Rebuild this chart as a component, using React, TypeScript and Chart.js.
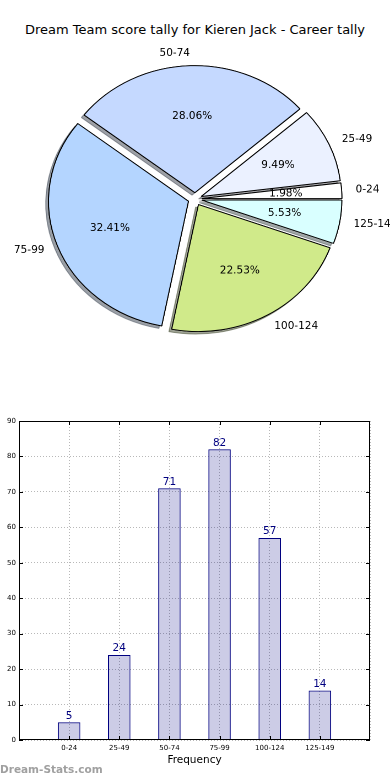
import React, { useEffect, useRef } from 'react';
import { Chart, registerables } from 'chart.js';

Chart.register(...registerables);

// ---------- data ----------
const chartTitle = 'Dream Team score tally for Kieren Jack - Career tally';
const categories = ['0-24', '25-49', '50-74', '75-99', '100-124', '125-149'];
const frequencies = [5, 24, 71, 82, 57, 14];
const sliceColors = ['#ffffff', '#ebf1ff', '#c5d9ff', '#b4d5ff', '#d0ea8a', '#d9ffff'];
const yAxisMin = 0;
const yAxisMax = 90;
const yAxisStep = 10;
const xAxisTitle = 'Frequency';
const watermark = 'Dream-Stats.com';

// ---------- layout / style constants ----------
const FONT = '"DejaVu Sans", Verdana, sans-serif';
const PIE_W = 354;
const PIE_H = 400;
const SX = 390 / PIE_W; // horizontal stretch (matplotlib pie on non-equal axes)
const PIE_RADIUS = 127;
const EXPLODE = 0.05;
const SHADOW = 0.02;

// pie goes counter-clockwise from 3 o'clock in the reference; Chart.js goes clockwise
const pieLabels = [...categories].reverse();
const pieValues = [...frequencies].reverse();
const pieColors = [...sliceColors].reverse();

function shadowOf(hex: string) {
  const n = parseInt(hex.slice(1), 16);
  const r = (n >> 16) & 255, g = (n >> 8) & 255, b = n & 255;
  return `rgba(${Math.round(r * 0.3)},${Math.round(g * 0.3)},${Math.round(b * 0.3)},0.5)`;
}

function drawStretchedText(ctx: CanvasRenderingContext2D, text: string, x: number, y: number, align: CanvasTextAlign) {
  ctx.save();
  ctx.translate(x, y);
  ctx.scale(1 / SX, 1);
  ctx.textAlign = align;
  ctx.textBaseline = 'middle';
  ctx.font = `10.5px ${FONT}`;
  ctx.fillStyle = '#000';
  ctx.fillText(text, 0, 0);
  ctx.restore();
}

const pieDecor = {
  id: 'pieDecor',
  afterDatasetsUpdate(chart: any) {
    const meta = chart.getDatasetMeta(0);
    meta.data.forEach((arc: any) => {
      const mid = (arc.startAngle + arc.endAngle) / 2;
      const d = EXPLODE * arc.outerRadius;
      arc.x += d * Math.cos(mid);
      arc.y += d * Math.sin(mid);
    });
  },
  beforeDatasetsDraw(chart: any) {
    const ctx = chart.ctx as CanvasRenderingContext2D;
    const dpr = chart.currentDevicePixelRatio || 1;
    const meta = chart.getDatasetMeta(0);
    meta.data.forEach((arc: any, i: number) => {
      ctx.save();
      ctx.shadowColor = shadowOf(pieColors[i]);
      ctx.shadowBlur = 0;
      ctx.shadowOffsetX = -SHADOW * arc.outerRadius * dpr;
      ctx.shadowOffsetY = SHADOW * arc.outerRadius * dpr;
      arc.draw(ctx);
      ctx.restore();
    });
  },
  afterDatasetsDraw(chart: any) {
    const ctx = chart.ctx as CanvasRenderingContext2D;
    const meta = chart.getDatasetMeta(0);
    const values: number[] = chart.data.datasets[0].data;
    const total = values.reduce((a, b) => a + b, 0);
    meta.data.forEach((arc: any, i: number) => {
      const mid = (arc.startAngle + arc.endAngle) / 2;
      const c = Math.cos(mid);
      const s = Math.sin(mid);
      const R = arc.outerRadius;
      const pct = ((values[i] / total) * 100).toFixed(2) + '%';
      drawStretchedText(ctx, pct, arc.x + 0.6 * R * c, arc.y + 0.6 * R * s, 'center');
      drawStretchedText(ctx, chart.data.labels[i], arc.x + 1.1 * R * c, arc.y + 1.1 * R * s, c > 0 ? 'left' : 'right');
    });
  },
};

const barDecor = {
  id: 'barDecor',
  afterDraw(chart: any) {
    const ctx = chart.ctx as CanvasRenderingContext2D;
    const a = chart.chartArea;
    const xs = chart.scales.x;
    const ys = chart.scales.y;
    ctx.save();
    // value labels
    const meta = chart.getDatasetMeta(0);
    ctx.font = `10.5px ${FONT}`;
    ctx.fillStyle = '#000080';
    ctx.textAlign = 'center';
    ctx.textBaseline = 'alphabetic';
    meta.data.forEach((bar: any, i: number) => {
      ctx.fillText(String(frequencies[i]), bar.x, bar.y - 3.5);
    });
    // inward tick marks on all four sides
    ctx.strokeStyle = '#000';
    ctx.lineWidth = 1;
    ctx.beginPath();
    categories.forEach((_, i) => {
      const px = Math.round(xs.getPixelForValue(i)) + 0.5;
      ctx.moveTo(px, a.bottom);
      ctx.lineTo(px, a.bottom - 4);
      ctx.moveTo(px, a.top);
      ctx.lineTo(px, a.top + 4);
    });
    ys.ticks.forEach((t: any) => {
      const py = Math.round(ys.getPixelForValue(t.value)) + 0.5;
      ctx.moveTo(a.left, py);
      ctx.lineTo(a.left + 4, py);
      ctx.moveTo(a.right, py);
      ctx.lineTo(a.right - 4, py);
    });
    ctx.stroke();
    // frame
    ctx.strokeRect(Math.round(a.left) + 0.5, Math.round(a.top) + 0.5, Math.round(a.width) - 1, Math.round(a.height) - 1);
    ctx.restore();
  },
};

export default function App() {
  const pieRef = useRef<HTMLCanvasElement>(null);
  const barRef = useRef<HTMLCanvasElement>(null);

  useEffect(() => {
    const pie = new Chart(pieRef.current as HTMLCanvasElement, {
      type: 'pie',
      data: {
        labels: pieLabels,
        datasets: [
          {
            data: pieValues,
            backgroundColor: pieColors,
            borderColor: '#000',
            borderWidth: 0.9,
            offset: 0,
            hoverOffset: 0,
          },
        ],
      },
      options: {
        animation: false,
        responsive: false,
        devicePixelRatio: 2,
        events: [],
        rotation: 90,
        radius: PIE_RADIUS,
        layout: { padding: { left: 0, right: 0, top: 0, bottom: 2 } },
        plugins: { legend: { display: false }, tooltip: { enabled: false }, title: { display: false } },
      } as any,
      plugins: [pieDecor as any],
    });

    const bar = new Chart(barRef.current as HTMLCanvasElement, {
      type: 'bar',
      data: {
        datasets: [
          {
            data: categories.map((_, i) => ({ x: i, y: frequencies[i] })),
            backgroundColor: 'rgba(0,0,128,0.2)',
            borderColor: '#000080',
            borderWidth: 1,
            categoryPercentage: 0.5,
            barPercentage: 0.9,
          } as any,
        ],
      },
      options: {
        animation: false,
        responsive: false,
        events: [],
        layout: { padding: { left: 0, right: 20, top: 21, bottom: 0 } },
        plugins: { legend: { display: false }, tooltip: { enabled: false } },
        scales: {
          x: {
            type: 'linear',
            min: -1,
            max: categories.length,
            offset: false,
            z: 1,
            grid: { offset: false, color: '#b8b8b8', lineWidth: 1, drawTicks: false },
            border: { display: false, dash: [1, 2] },
            ticks: {
              stepSize: 1,
              autoSkip: false,
              maxRotation: 0,
              padding: 4,
              color: '#000',
              font: { size: 7, family: FONT },
              callback: (v: any) => categories[v as number] ?? '',
            },
            title: {
              display: true,
              text: xAxisTitle,
              color: '#000',
              font: { size: 10.5, family: FONT },
              padding: { top: 0, bottom: 13.7 },
            },
            afterFit: (s: any) => {
              s.height = 40;
            },
          },
          y: {
            min: yAxisMin,
            max: yAxisMax,
            z: 1,
            grid: { color: '#b8b8b8', lineWidth: 1, drawTicks: false },
            border: { display: false, dash: [1, 2] },
            ticks: {
              stepSize: yAxisStep,
              padding: 3,
              color: '#000',
              font: { size: 7, family: FONT },
            },
            afterFit: (s: any) => {
              s.width = 19;
            },
          },
        },
      } as any,
      plugins: [barDecor as any],
    });

    return () => {
      pie.destroy();
      bar.destroy();
    };
  }, []);

  return (
    <div
      style={{
        position: 'fixed',
        left: 0,
        top: 0,
        width: 390,
        height: 780,
        background: '#fff',
        overflow: 'hidden',
        fontFamily: FONT,
      }}
    >
      <div
        style={{
          position: 'absolute',
          left: 0,
          top: 22,
          width: 390,
          textAlign: 'center',
          fontSize: 13,
          lineHeight: '16px',
          color: '#000',
          whiteSpace: 'nowrap',
        }}
      >
        {chartTitle}
      </div>
      <div
        style={{
          position: 'absolute',
          left: 0,
          top: 0,
          width: PIE_W,
          height: PIE_H,
          transform: `scaleX(${SX})`,
          transformOrigin: '0 0',
        }}
      >
        <canvas ref={pieRef} width={PIE_W} height={PIE_H} style={{ display: 'block', width: PIE_W, height: PIE_H }} />
      </div>
      <div style={{ position: 'absolute', left: 0, top: 400, width: 390, height: 380 }}>
        <canvas ref={barRef} width={390} height={380} style={{ display: 'block', width: 390, height: 380 }} />
      </div>
      <div
        style={{
          position: 'absolute',
          left: 0,
          top: 763,
          fontSize: 10.5,
          fontWeight: 'bold',
          lineHeight: '13px',
          color: '#a0a0a0',
          whiteSpace: 'nowrap',
        }}
      >
        {watermark}
      </div>
    </div>
  );
}
